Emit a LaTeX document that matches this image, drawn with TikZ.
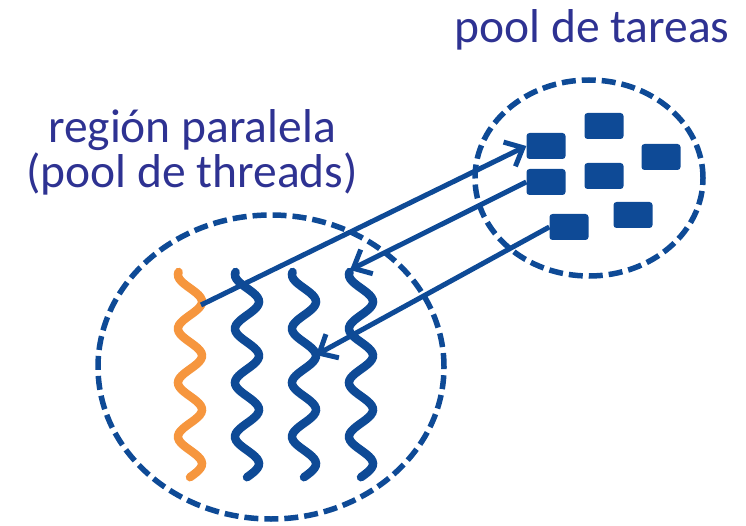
\documentclass[tikz,border=0pt]{standalone}
\usepackage{fontspec}
\setmainfont{Carlito}
\usepackage{xcolor}
\usetikzlibrary{arrows.meta, shapes.geometric}

\definecolor{navy}{RGB}{14,74,150}
\definecolor{thorange}{RGB}{246,150,62}
\definecolor{txtblue}{RGB}{46,50,146}

\begin{document}
\begin{tikzpicture}[x=1pt, y=-1pt,
	>={Straight Barb[length=15pt, width=27pt]},
	pool/.style={ellipse, draw=navy, line width=5.5pt, dash pattern=on 14pt off 6pt, inner sep=0pt},
	task/.style={fill=navy, rounded corners=3pt, minimum width=39pt, minimum height=26pt, inner sep=0pt},
	thread/.style={line width=8.5pt, line cap=round},
	link/.style={->, draw=navy, line width=5pt},
	txt/.style={text=txtblue, font=\fontsize{47.5}{45}\selectfont, align=center}]

	\useasboundingbox (0,0) rectangle (746,526);

	% textos
	\node[txt, anchor=base] (ttareas) at (592,43) {pool de tareas};
	\node[txt, anchor=base] (tregion) at (192,188) {región paralela\\(pool de threads)};

	% pools
	\node[pool, minimum width=228pt, minimum height=196pt] (ptareas) at (589,178) {};
	\node[pool, minimum width=346pt, minimum height=304pt] (pthreads) at (271,367) {};

	% tareas
	\node[task] (t1) at (546,146) {};
	\node[task] (t2) at (604,126) {};
	\node[task] (t3) at (661,157) {};
	\node[task] (t4) at (604,176) {};
	\node[task] (t5) at (546,182) {};
	\node[task] (t6) at (569,227) {};
	\node[task] (t7) at (633,215) {};

	% threads
	\draw[thread, thorange] plot[domain=0:7.6, samples=90, smooth] ({190-12*cos(180*(\x-0.1))}, {272+27*\x});
	\foreach \c in {247,304,361}
		\draw[thread, navy] plot[domain=0:7.6, samples=90, smooth] ({\c-12*cos(180*(\x-0.1))}, {272+27*\x});

	\coordinate (h0) at (201,305);
	\coordinate (h3) at (350,270);
	\coordinate (h2) at (316,355);

	% flechas
	\draw[link] (h0) -- (t1.west);
	\draw[link] (t5.west) -- (h3);
	\draw[link] (t6.west) -- (h2);
\end{tikzpicture}
\end{document}
